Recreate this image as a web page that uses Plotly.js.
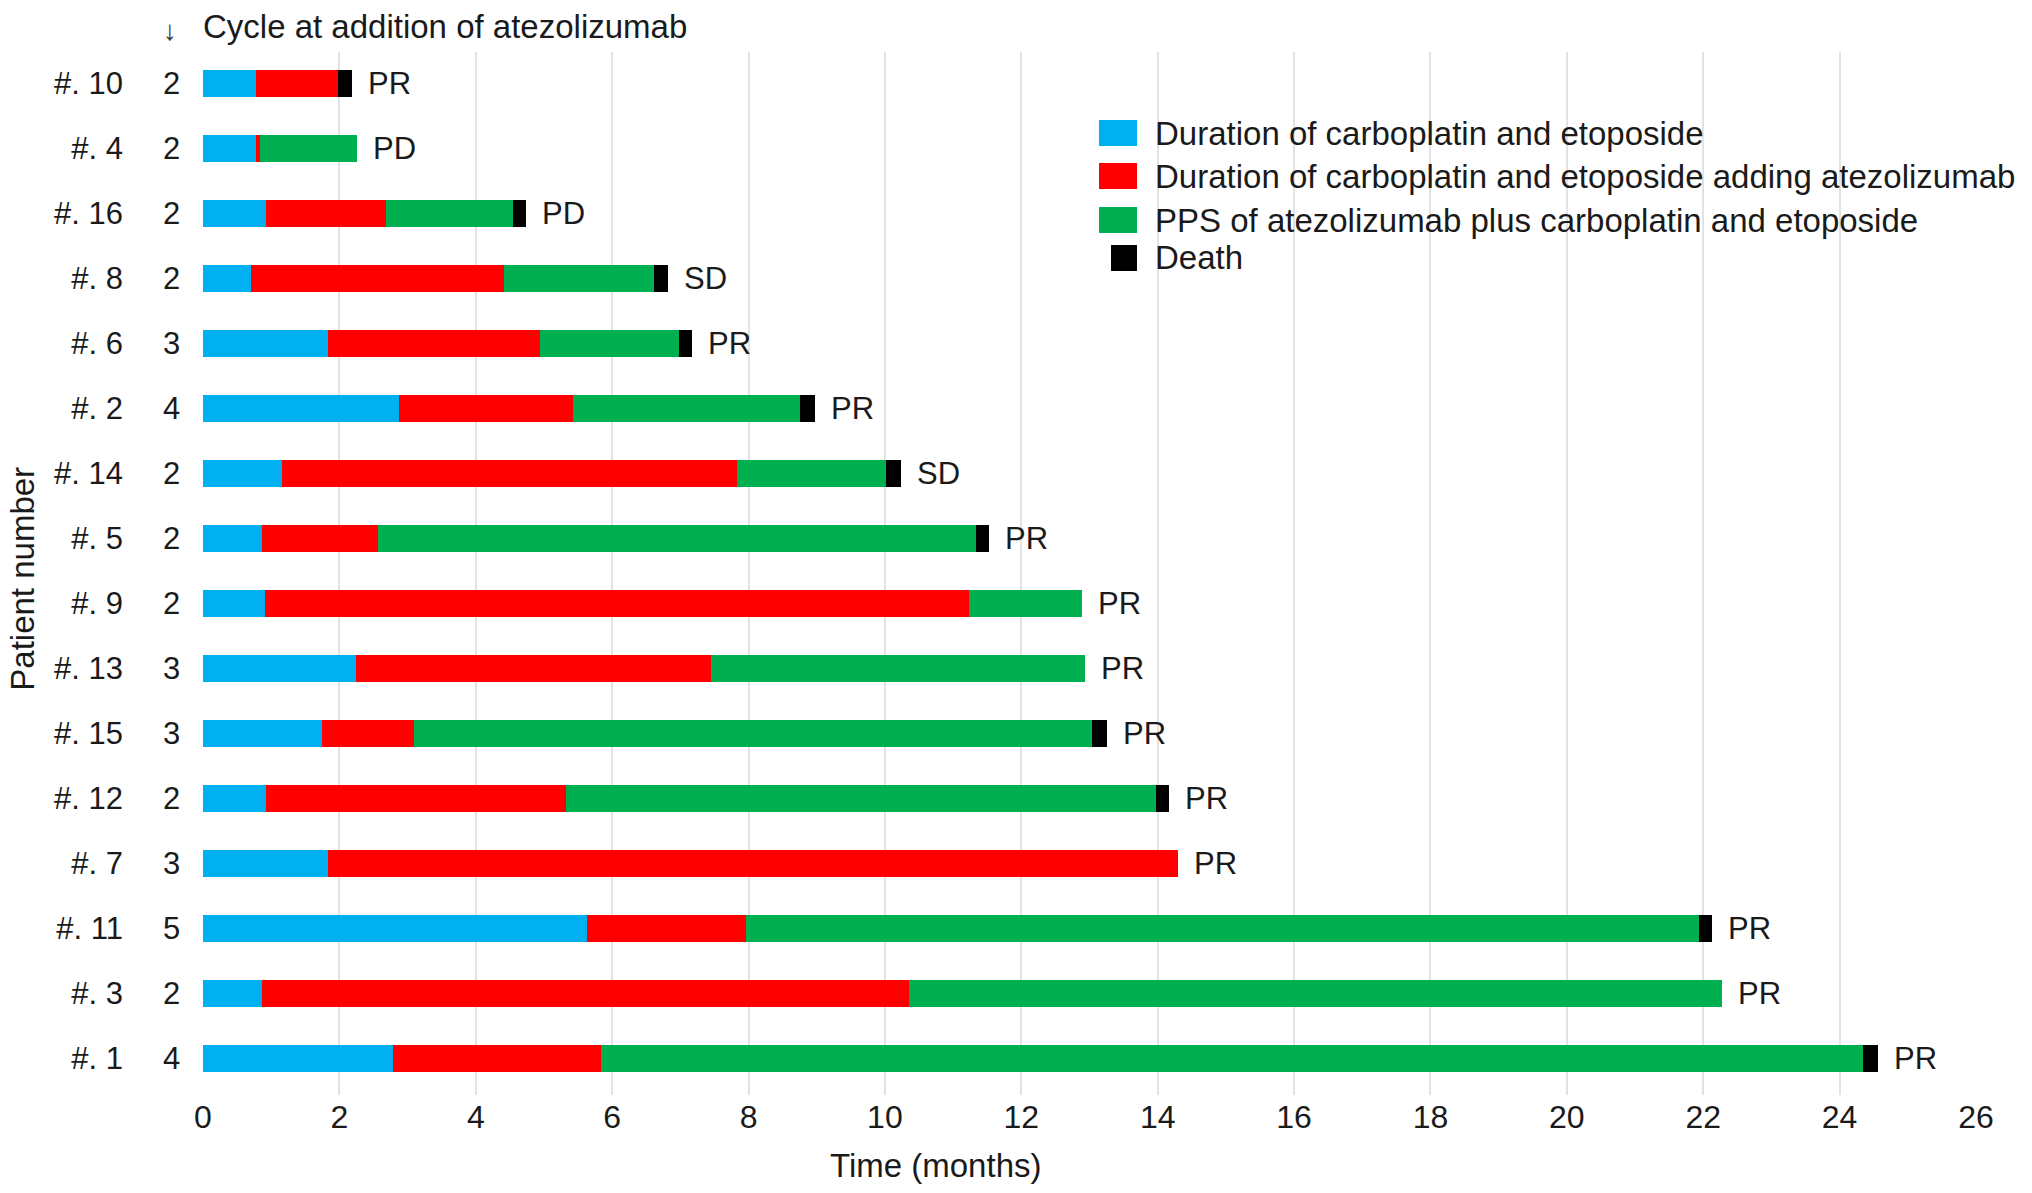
<!DOCTYPE html>
<html>
<head>
<meta charset="utf-8">
<script src="https://cdn.plot.ly/plotly-3.0.1.min.js"></script>
<style>
  body { margin: 0; background: #ffffff; }
  #chart { width: 2032px; height: 1193px; }
</style>
</head>
<body>
<div id="chart"></div>
<script>
// patients, top to bottom as in the figure
const patients = ["#. 10", "#. 4", "#. 16", "#. 8", "#. 6", "#. 2", "#. 14", "#. 5",
  "#. 9", "#. 13", "#. 15", "#. 12", "#. 7", "#. 11", "#. 3", "#. 1"];
// cycle at addition of atezolizumab
const cycles = [2, 2, 2, 2, 3, 4, 2, 2, 2, 3, 3, 2, 3, 5, 2, 4];
// durations in months
const carboEto = [0.78, 0.78, 0.93, 0.70, 1.84, 2.87, 1.16, 0.86, 0.91, 2.24, 1.75, 0.93, 1.84, 5.63, 0.86, 2.79];
const addAtezo = [1.20, 0.05, 1.75, 3.71, 3.10, 2.55, 6.67, 1.71, 10.33, 5.21, 1.35, 4.39, 12.46, 2.34, 9.50, 3.05];
const pps = [0, 1.43, 1.86, 2.21, 2.04, 3.34, 2.19, 8.76, 1.65, 5.48, 9.94, 8.65, 0, 13.97, 11.92, 18.51];
const death = [0.2, 0, 0.2, 0.2, 0.19, 0.21, 0.21, 0.19, 0, 0, 0.21, 0.19, 0, 0.19, 0, 0.21];
const response = ["PR", "PD", "PD", "SD", "PR", "PR", "SD", "PR", "PR", "PR", "PR", "PR", "PR", "PR", "PR", "PR"];

const seriesNames = [
  "Duration of carboplatin and etoposide",
  "Duration of carboplatin and etoposide adding atezolizumab",
  "PPS of atezolizumab plus carboplatin and etoposide",
  "Death"
];
const seriesColors = ["#00b0f0", "#ff0000", "#00b050", "#000000"];
const tickVals = [0, 2, 4, 6, 8, 10, 12, 14, 16, 18, 20, 22, 24, 26];

const FONT = "Liberation Sans, Arial, Helvetica, sans-serif";
const INK = "#1a1a1a";

const nz = (arr) => arr.map((v) => (v > 0 ? v : null));

const data = [carboEto, addAtezo, pps, death].map((vals, i) => ({
  type: "bar",
  orientation: "h",
  name: seriesNames[i],
  x: nz(vals),
  y: patients,
  width: 0.41,
  marker: { color: seriesColors[i], line: { width: 0 } },
  showlegend: false,
}));

const annotations = [];

// response label at the end of each bar
patients.forEach((p, i) => {
  const end = carboEto[i] + addAtezo[i] + pps[i] + death[i];
  annotations.push({
    x: end, y: p, xref: "x", yref: "y",
    text: response[i], showarrow: false,
    xanchor: "left", yanchor: "middle", xshift: 14,
    font: { family: FONT, size: 31, color: INK },
  });
  // cycle number column
  annotations.push({
    x: 0, y: p, xref: "paper", yref: "y",
    text: String(cycles[i]), showarrow: false,
    xanchor: "center", yanchor: "middle", xshift: -32,
    font: { family: FONT, size: 31, color: INK },
  });
});

// header above the cycle column
annotations.push({
  x: 0, y: 1, xref: "paper", yref: "paper",
  text: "↓", showarrow: false,
  xanchor: "center", yanchor: "middle", xshift: -33, yshift: 22,
  font: { family: FONT, size: 28, color: "#333333" },
});
annotations.push({
  x: 0, y: 1, xref: "paper", yref: "paper",
  text: "Cycle at addition of atezolizumab", showarrow: false,
  xanchor: "left", yanchor: "middle", xshift: -2, yshift: 26,
  font: { family: FONT, size: 33, color: INK },
});

// axis titles
annotations.push({
  x: 0, y: 0.495, xref: "paper", yref: "paper",
  text: "Patient number", showarrow: false, textangle: -90,
  xanchor: "center", yanchor: "middle", xshift: -180,
  font: { family: FONT, size: 33, color: INK },
});
annotations.push({
  x: 0.413, y: 0, xref: "paper", yref: "paper",
  text: "Time (months)", showarrow: false,
  xanchor: "center", yanchor: "middle", yshift: -70,
  font: { family: FONT, size: 33, color: INK },
});

// legend: keys drawn as shapes, labels as annotations
const shapes = [];
const legX = 0.5268; // paper x of the right edge of legend keys
const legRows = [0.9223, 0.8811, 0.8389, 0.8025];
seriesNames.forEach((name, i) => {
  const w = i === 3 ? 26 : 38;
  shapes.push({
    type: "rect", xref: "paper", yref: "paper",
    xsizemode: "pixel", ysizemode: "pixel",
    xanchor: legX, yanchor: legRows[i],
    x0: -w, x1: 0, y0: -13, y1: 13,
    fillcolor: seriesColors[i], line: { width: 0 },
  });
  annotations.push({
    x: legX, y: legRows[i], xref: "paper", yref: "paper",
    text: name, showarrow: false,
    xanchor: "left", yanchor: "middle", xshift: 16,
    font: { family: FONT, size: 33, color: INK },
  });
});

const layout = {
  width: 2032,
  height: 1193,
  paper_bgcolor: "#ffffff",
  plot_bgcolor: "#ffffff",
  margin: { l: 203, r: 56, t: 52, b: 98 },
  barmode: "stack",
  bargap: 0,
  font: { family: FONT, size: 31, color: INK },
  xaxis: {
    range: [0, 26],
    tickvals: tickVals,
    showgrid: true,
    gridcolor: "#e3e3e3",
    gridwidth: 2,
    zeroline: false,
    showline: false,
    ticks: "",
    tickfont: { family: FONT, size: 32, color: INK },
    automargin: false,
    fixedrange: true,
  },
  yaxis: {
    type: "category",
    categoryorder: "array",
    categoryarray: patients,
    range: [15.56, -0.48],
    showgrid: false,
    zeroline: false,
    showline: false,
    ticks: "",
    ticklabelstandoff: 79,
    tickfont: { family: FONT, size: 31, color: INK },
    automargin: false,
    fixedrange: true,
  },
  annotations: annotations,
  shapes: shapes,
};

Plotly.newPlot("chart", data, layout, { staticPlot: true, displayModeBar: false });
</script>
</body>
</html>
